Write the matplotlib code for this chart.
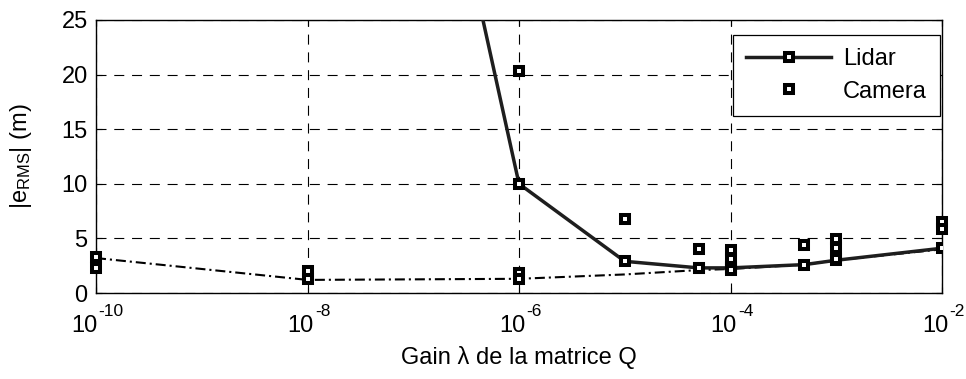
import matplotlib
matplotlib.use("Agg")
import matplotlib.pyplot as plt
from matplotlib.transforms import offset_copy
import numpy as np

plt.rcParams['font.family'] = ['Liberation Sans', 'DejaVu Sans']
plt.rcParams['mathtext.fontset'] = 'custom'
plt.rcParams['mathtext.rm'] = 'Liberation Sans'
plt.rcParams['mathtext.it'] = 'Liberation Sans'
plt.rcParams['mathtext.default'] = 'regular'

# Lidar RMS error versus gain
lidar_gain = [1e-7, 1e-6, 1e-5, 5e-5, 1e-4, 5e-4, 1e-3, 1e-2]
lidar_err = [54.0, 10.0, 2.9, 2.3, 2.3, 2.6, 3.0, 4.1]

# Camera runs (several per gain)
camera_gain = [1e-10, 1e-10, 1e-8, 1e-8, 1e-6, 1e-6, 1e-6, 1e-5,
               5e-5, 5e-5, 1e-4, 1e-4, 1e-4, 1e-4, 5e-4, 1e-3, 1e-3, 1e-3,
               1e-2, 1e-2]
camera_err = [3.3, 2.3, 2.0, 1.3, 20.3, 1.8, 1.3, 6.8,
              4.0, 2.3, 3.9, 3.1, 2.4, 2.1, 4.4, 4.9, 4.1, 3.1,
              6.5, 5.9]

# Combined estimate (dash-dot)
fused_gain = [1e-10, 1e-8, 1e-6, 1e-5, 5e-5, 1e-4, 5e-4, 1e-3, 1e-2]
fused_err = [3.2, 1.2, 1.3, 1.7, 2.1, 2.2, 2.6, 3.0, 4.0]

y_ticks = [0, 5, 10, 15, 20, 25]
x_ticks = [1e-10, 1e-8, 1e-6, 1e-4, 1e-2]

FS = 17
FS_EXP = 12.5
fig = plt.figure(figsize=(9.66, 3.79), dpi=100)
ax = fig.add_axes([96 / 966, 1 - 293 / 379, 846 / 966, 273 / 379])

mk = dict(marker='s', ms=5.8, mew=2.9, mfc='white', mec='black')

ax.plot(fused_gain, fused_err, color='black', lw=1.5,
        ls=(0, (4.8, 1.9, 1, 1.9)), zorder=3, clip_on=False)
ax.plot(lidar_gain, lidar_err, color='#1e1e1e', lw=2.5, label='Lidar',
        zorder=4, **mk)
ax.plot(camera_gain, camera_err, ls='none', label='Camera', zorder=5,
        clip_on=False, **mk)

ax.set_xscale('log')
ax.set_xlim(1e-10, 1e-2)
ax.set_ylim(0, 25)
ax.set_xticks(x_ticks)
ax.set_xticklabels([])
ax.minorticks_off()
ax.set_yticks(y_ticks)

ax.grid(True, color='black', ls=(0, (9, 7)), lw=0.8)
ax.tick_params(direction='in', length=4, width=0.8, labelsize=FS,
               top=True, right=True, pad=6)
for s in ax.spines.values():
    s.set_linewidth(1.0)

# Power-of-ten tick labels: base and raised exponent, centred on the tick
renderer = fig.canvas.get_renderer()
xform = ax.get_xaxis_transform()
px = 72.0 / fig.dpi
for v in x_ticks:
    exp_txt = str(int(round(np.log10(v))))
    probe_b = fig.text(0, 0, '10', fontsize=FS)
    probe_e = fig.text(0, 0, exp_txt, fontsize=FS_EXP)
    wb = probe_b.get_window_extent(renderer).width
    we = probe_e.get_window_extent(renderer).width
    probe_b.remove()
    probe_e.remove()
    shift = (wb - we) / 2.0 + 1.0
    ax.text(v, 0, '10', fontsize=FS, ha='right', va='baseline',
            transform=offset_copy(xform, fig, x=shift * px, y=-39 * px,
                                  units='points'), clip_on=False)
    ax.text(v, 0, exp_txt, fontsize=FS_EXP, ha='left', va='baseline',
            transform=offset_copy(xform, fig, x=(shift + 1) * px,
                                  y=-23 * px, units='points'),
            clip_on=False)

fig.text(0.5 * (96 + 942) / 966, 1 - 364 / 379, 'Gain λ de la matrice Q',
         fontsize=FS, ha='center', va='baseline')
ax.set_ylabel(r'$|e_{RMS}|$ (m)', fontsize=FS, va='center')
ax.yaxis.set_label_coords((21 - 96) / 846, 0.5)

leg = ax.legend(loc='upper right', fontsize=FS, frameon=True, fancybox=False,
                edgecolor='black', framealpha=1, handlelength=3.6,
                handletextpad=0.5, borderaxespad=0.0, labelspacing=0.45,
                borderpad=0.55, bbox_to_anchor=(1 - 2 / 846, 1 - 15 / 273))
leg.get_frame().set_linewidth(0.9)

fig.savefig('out.png', dpi=100)
